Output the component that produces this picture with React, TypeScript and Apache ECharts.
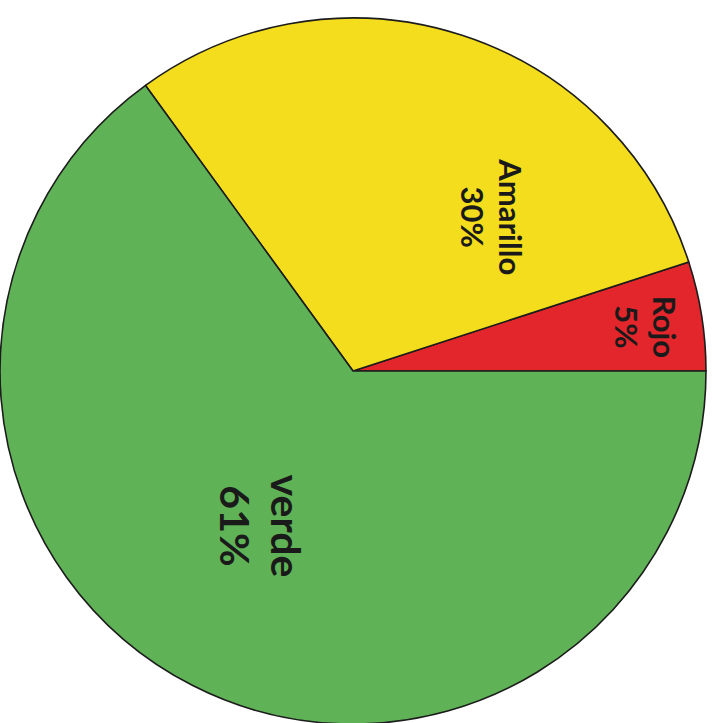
import React, { useEffect, useRef } from "react";
import * as echarts from "echarts";

// Data
const categories = ["Rojo", "Amarillo", "verde"];
const sliceValues = [5, 30, 65];
// percentage labels printed on the chart
const percentLabels = ["5%", "30%", "61%"];
const sliceColors = ["#e2262b", "#f4dd1c", "#5fb256"];

// label placement (layout only), screen offsets from the inside position
const labelShift = [
  [116, -16],
  [84, 17],
  [-11, -5],
];
const labelSizes = [31, 31, 41];

export default function App() {
  const ref = useRef<HTMLDivElement>(null);
  useEffect(() => {
    if (!ref.current) return;
    const chart = echarts.init(ref.current, null, { renderer: "svg" });
    chart.setOption({
      animation: false,
      backgroundColor: "#ffffff",
      series: [
        {
          type: "pie",
          center: [353, 371],
          radius: [0, 353],
          startAngle: 0,
          clockwise: false,
          avoidLabelOverlap: false,
          itemStyle: { borderColor: "#1c1c1c", borderWidth: 1.6 },
          label: {
            show: true,
            position: "inside",
            rotate: -90,
            color: "#1a1a1a",
            fontFamily: "Lato",
            fontWeight: "bold",
            align: "center",
            formatter: (p: any) => `${p.name}\n${percentLabels[p.dataIndex]}`,
          },
          labelLine: { show: false },
          // offsets are applied in the label's rotated frame
          labelLayout: (p: any) => ({
            dx: labelShift[p.dataIndex][1],
            dy: -labelShift[p.dataIndex][0],
          }),
          data: categories.map((c, i) => ({
            name: c,
            value: sliceValues[i],
            itemStyle: { color: sliceColors[i] },
            label: {
              fontSize: labelSizes[i],
              lineHeight: Math.round(labelSizes[i] * 1.24),
            },
          })),
        },
      ],
    });
    return () => chart.dispose();
  }, []);
  return (
    <div
      ref={ref}
      style={{ position: "fixed", left: 0, top: 0, width: 715, height: 723 }}
    />
  );
}
